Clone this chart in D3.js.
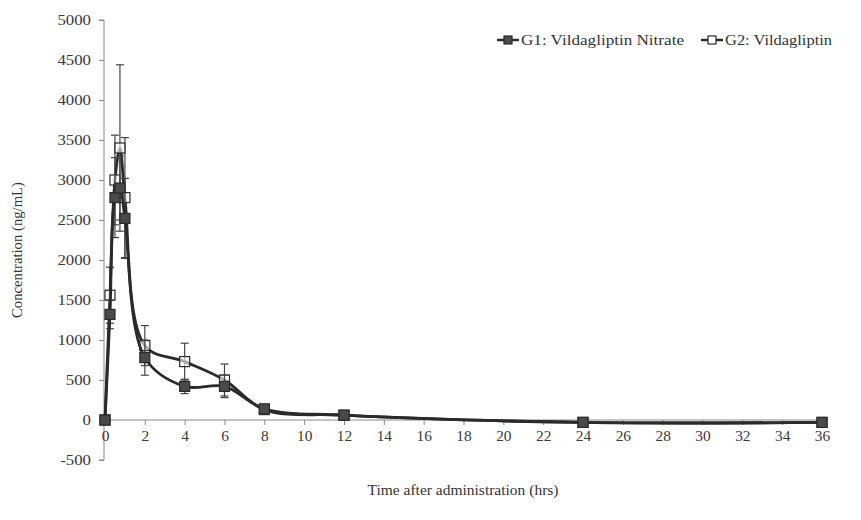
<!DOCTYPE html>
<html>
<head>
<meta charset="utf-8">
<script src="https://d3js.org/d3.v7.min.js"></script>
<style>
  body { margin: 0; background: #fff; }
  text { font-family: "Liberation Serif", "Times New Roman", serif; fill: #333; }
</style>
</head>
<body>
<svg id="chart" width="861" height="520"></svg>
<script>
// time points (hrs)
const times = [0, 0.25, 0.5, 0.75, 1, 2, 4, 6, 8, 12, 24, 36];
// G1: Vildagliptin Nitrate
const g1Mean = [0, 1320, 2780, 2900, 2520, 780, 420, 420, 140, 60, -30, -30];
const g1Err  = [0, 180, 500, 400, 500, 220, 90, 140, 40, 20, 0, 0];
// G2: Vildagliptin
const g2Mean = [0, 1560, 3000, 3400, 2780, 930, 730, 500, 130, 60, -30, -30];
const g2Err  = [0, 350, 560, 1040, 750, 250, 230, 200, 30, 20, 0, 0];

const xTicks = d3.range(0, 37, 2);
const yTicks = d3.range(-500, 5001, 500);

const svg = d3.select("#chart");
const x = d3.scaleLinear().domain([0, 36]).range([105, 822]);
const y = d3.scaleLinear().domain([-500, 5000]).range([460, 20]);
const axisColor = "#888";
const lineColor = "#2a2a2a";
const serif = "Liberation Serif";

// stretch a text horizontally (the reference type is wide)
function stretch(sel, factor) {
    sel.each(function () {
        const w = this.getComputedTextLength();
        d3.select(this)
            .attr("textLength", w * factor)
            .attr("lengthAdjust", "spacingAndGlyphs");
    });
}

// y axis
const yAxis = svg.append("g")
    .attr("transform", `translate(${x(0) - 1},0)`)
    .call(d3.axisLeft(y).tickValues(yTicks).tickSize(5).tickPadding(8).tickFormat(d => String(d)))
    .attr("font-family", serif).attr("font-size", 14);
yAxis.select(".domain").attr("stroke", axisColor).attr("d", `M-5,${y(5000)}H0V${y(-500)}H-5`);
yAxis.selectAll(".tick line").attr("stroke", axisColor);
yAxis.selectAll(".tick text")
    .style("font-family", serif).style("font-size", "14px").style("fill", "#3a3a3a")
    .call(stretch, 1.2);

// x axis on the zero line
const xAxis = svg.append("g")
    .attr("transform", `translate(0,${y(0)})`)
    .call(d3.axisBottom(x).tickValues(xTicks).tickSize(5).tickPadding(6).tickFormat(d => String(d)))
    .attr("font-family", serif).attr("font-size", 14);
xAxis.select(".domain").attr("stroke", axisColor).attr("d", `M${x(0) - 1},0H${x(36)}`);
xAxis.selectAll(".tick line").attr("stroke", axisColor);
xAxis.selectAll(".tick text")
    .style("font-family", serif).style("font-size", "14px").style("fill", "#3a3a3a")
    .call(stretch, 1.1);

// axis titles
svg.append("text")
    .attr("x", 463).attr("y", 495)
    .attr("text-anchor", "middle").style("font-size", "14px")
    .attr("textLength", 191).attr("lengthAdjust", "spacingAndGlyphs")
    .text("Time after administration (hrs)");
svg.append("text")
    .attr("transform", "translate(22,250) rotate(-90)")
    .attr("text-anchor", "middle").style("font-size", "14px")
    .attr("textLength", 136).attr("lengthAdjust", "spacingAndGlyphs")
    .text("Concentration (ng/mL)");

function drawSeries(mean, err, filled) {
    const pts = times.map((t, i) => ({ t: t, v: mean[i], e: err[i] }));
    const g = svg.append("g");

    // error bars
    pts.filter(d => d.e > 0).forEach(d => {
        const cx = x(d.t);
        g.append("line")
            .attr("x1", cx).attr("x2", cx)
            .attr("y1", y(d.v - d.e)).attr("y2", y(d.v + d.e))
            .attr("stroke", "#444").attr("stroke-width", 1.2);
        [d.v - d.e, d.v + d.e].forEach(vv => {
            g.append("line")
                .attr("x1", cx - 4).attr("x2", cx + 4)
                .attr("y1", y(vv)).attr("y2", y(vv))
                .attr("stroke", "#444").attr("stroke-width", 1.2);
        });
    });

    const line = d3.line()
        .x(d => x(d.t))
        .y(d => y(d.v))
        .curve(d3.curveCatmullRom.alpha(0.5));
    g.append("path")
        .datum(pts)
        .attr("d", line)
        .attr("fill", "none")
        .attr("stroke", lineColor)
        .attr("stroke-width", 2.8);

    g.selectAll("rect")
        .data(pts)
        .join("rect")
        .attr("x", d => x(d.t) - 5)
        .attr("y", d => y(d.v) - 5)
        .attr("width", 10).attr("height", 10)
        .attr("fill", filled ? "#4a4a4a" : "#fff")
        .attr("fill-opacity", filled ? 1 : 0.6)
        .attr("stroke", "#2a2a2a")
        .attr("stroke-width", 1.2);
}

drawSeries(g2Mean, g2Err, false);
drawSeries(g1Mean, g1Err, true);

// legend
const legend = [
    { label: "G1: Vildagliptin Nitrate", filled: true, x0: 497, w: 163 },
    { label: "G2: Vildagliptin", filled: false, x0: 701, w: 107 }
];
legend.forEach(l => {
    const lg = svg.append("g");
    lg.append("line")
        .attr("x1", l.x0).attr("x2", l.x0 + 22)
        .attr("y1", 40).attr("y2", 40)
        .attr("stroke", lineColor).attr("stroke-width", 2.5);
    lg.append("rect")
        .attr("x", l.x0 + 7).attr("y", 36)
        .attr("width", 8).attr("height", 8)
        .attr("fill", l.filled ? "#4a4a4a" : "#fff")
        .attr("stroke", "#2a2a2a").attr("stroke-width", 1.2);
    lg.append("text")
        .attr("x", l.x0 + 24).attr("y", 45)
        .style("font-size", "14px")
        .attr("textLength", l.w).attr("lengthAdjust", "spacingAndGlyphs")
        .text(l.label);
});
</script>
</body>
</html>
